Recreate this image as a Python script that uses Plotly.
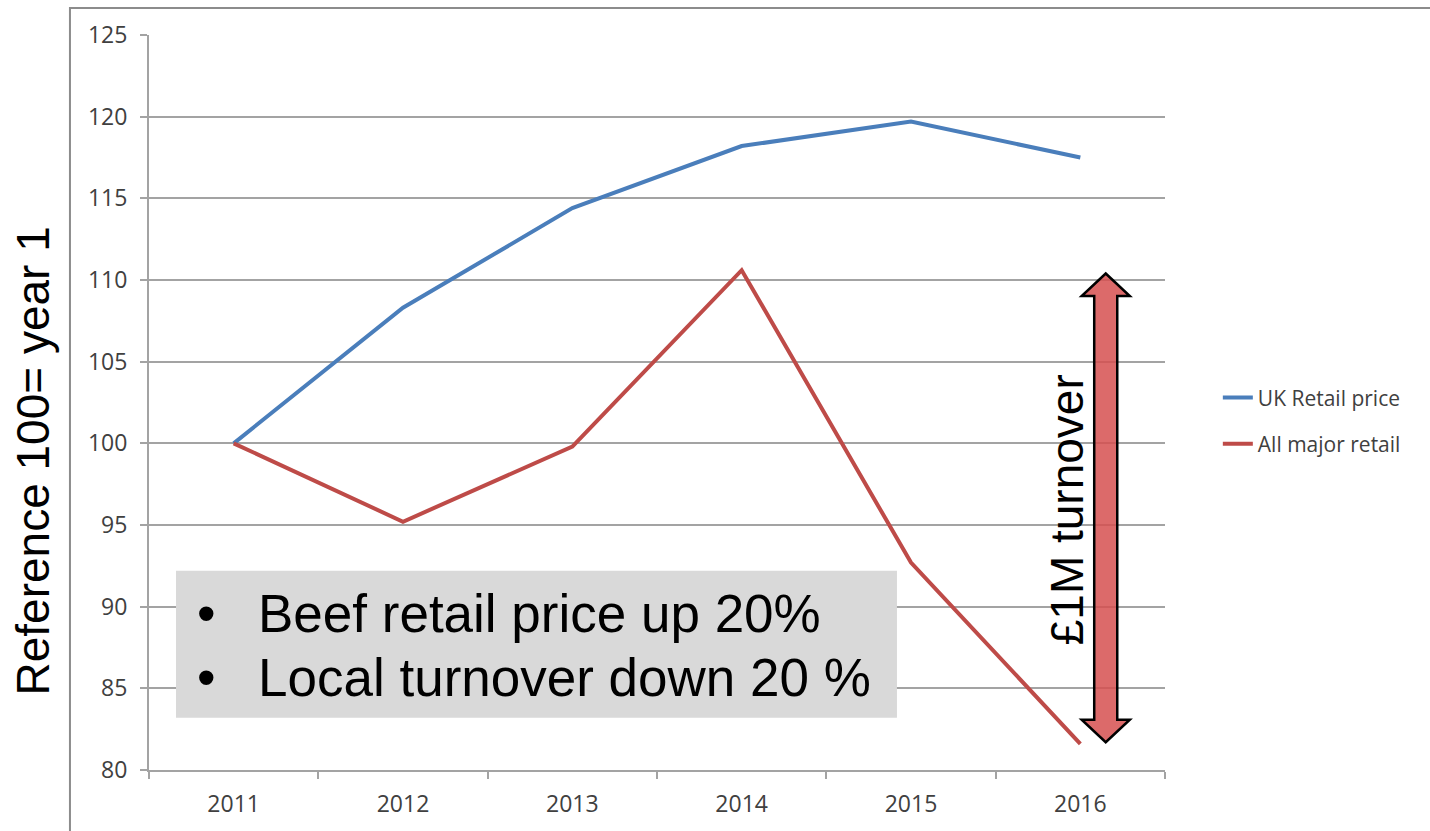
import plotly.graph_objects as go

# ---- data ----
years = ["2011", "2012", "2013", "2014", "2015", "2016"]
uk_retail_price = [100, 108.3, 114.4, 118.2, 119.7, 117.5]
all_major_retail = [100, 95.2, 99.8, 110.6, 92.7, 81.6]

x_idx = list(range(len(years)))
boundaries = [i - 0.5 for i in range(len(years) + 1)]

GRID = "#A3A3A3"
TICKFONT = dict(family="Open Sans, Calibri, sans-serif", size=23, color="#404040")
BIGFONT = "Liberation Sans, Arial, sans-serif"

fig = go.Figure()
fig.add_trace(go.Scatter(x=x_idx, y=uk_retail_price, mode="lines", name="UK Retail price",
                         line=dict(color="#4A7EBB", width=4), legendgroup="g1"))
fig.add_trace(go.Scatter(x=x_idx, y=all_major_retail, mode="lines", name="All major retail",
                         line=dict(color="#BE4B48", width=4), legendgroup="g2"))

# double-headed arrow (annotation decoration)
ax_c, top, bot = 5.15, 110.4, 81.7
hl, hhw, shw = 1.38, 0.142, 0.068
path = (f"M {ax_c},{top} L {ax_c+hhw},{top-hl} L {ax_c+shw},{top-hl} L {ax_c+shw},{bot+hl} "
        f"L {ax_c+hhw},{bot+hl} L {ax_c},{bot} L {ax_c-hhw},{bot+hl} L {ax_c-shw},{bot+hl} "
        f"L {ax_c-shw},{top-hl} L {ax_c-hhw},{top-hl} Z")

shapes = [
    # outer frame
    dict(type="rect", xref="paper", yref="paper", x0=-0.0778, x1=1.6, y0=-0.5, y1=1.0367,
         line=dict(color="#8C8C8C", width=2), fillcolor="rgba(0,0,0,0)", layer="below"),
    # grey text box
    dict(type="rect", xref="x", yref="y", x0=-0.3405, x1=3.917, y0=83.2, y1=92.2,
         line=dict(width=0), fillcolor="#D9D9D9", layer="above"),
    dict(type="path", xref="x", yref="y", path=path,
         fillcolor="rgba(214,80,80,0.85)", line=dict(color="black", width=2.5), layer="above"),
]

annotations = [
    dict(text="Reference 100= year 1", xref="paper", yref="paper", x=-0.114, y=0.42,
         textangle=-90, showarrow=False, xanchor="center", yanchor="middle",
         font=dict(family=BIGFONT, size=46, color="black")),
    dict(text="£1M turnover", xref="paper", yref="paper", x=0.903, y=0.354,
         textangle=-90, showarrow=False, xanchor="center", yanchor="middle",
         font=dict(family=BIGFONT, size=46, color="black")),
    dict(text="•", xref="paper", yref="paper", x=0.0455, y=0.2136, showarrow=False,
         xanchor="left", yanchor="middle", font=dict(family=BIGFONT, size=53, color="black")),
    dict(text="•", xref="paper", yref="paper", x=0.0455, y=0.1252, showarrow=False,
         xanchor="left", yanchor="middle", font=dict(family=BIGFONT, size=53, color="black")),
    dict(text="Beef retail price up 20%", xref="paper", yref="paper", x=0.1053, y=0.2136,
         showarrow=False, xanchor="left", yanchor="middle",
         font=dict(family=BIGFONT, size=53, color="black")),
    dict(text="Local turnover down 20 %", xref="paper", yref="paper", x=0.1053, y=0.1252,
         showarrow=False, xanchor="left", yanchor="middle",
         font=dict(family=BIGFONT, size=53, color="black")),
]

fig.update_layout(
    width=1430, height=831,
    margin=dict(l=149, r=265, t=35, b=61),
    paper_bgcolor="white", plot_bgcolor="white",
    showlegend=True,
    legend=dict(x=1.052, y=0.475, xanchor="left", yanchor="middle",
                font=dict(family="Open Sans, Calibri, sans-serif", size=21, color="#404040"),
                tracegroupgap=16, bgcolor="rgba(0,0,0,0)"),
    shapes=shapes,
    annotations=annotations,
    xaxis=dict(range=[-0.5, 5.5], tickmode="array", tickvals=x_idx, ticktext=years,
               ticks="", showgrid=False, zeroline=False, showline=True,
               linecolor=GRID, linewidth=2, tickfont=TICKFONT, ticklabelstandoff=12,
               minor=dict(tickmode="array", tickvals=boundaries, ticks="outside",
                          ticklen=7, tickwidth=2, tickcolor=GRID, showgrid=False)),
    yaxis=dict(range=[80, 125], dtick=5, tick0=80, showgrid=True, gridcolor=GRID, gridwidth=2,
               zeroline=False, showline=True, linecolor=GRID, linewidth=2,
               ticks="outside", ticklen=7, tickwidth=2, tickcolor=GRID, tickfont=TICKFONT,
               ticklabelstandoff=8),
)

fig.write_html("out.html")
